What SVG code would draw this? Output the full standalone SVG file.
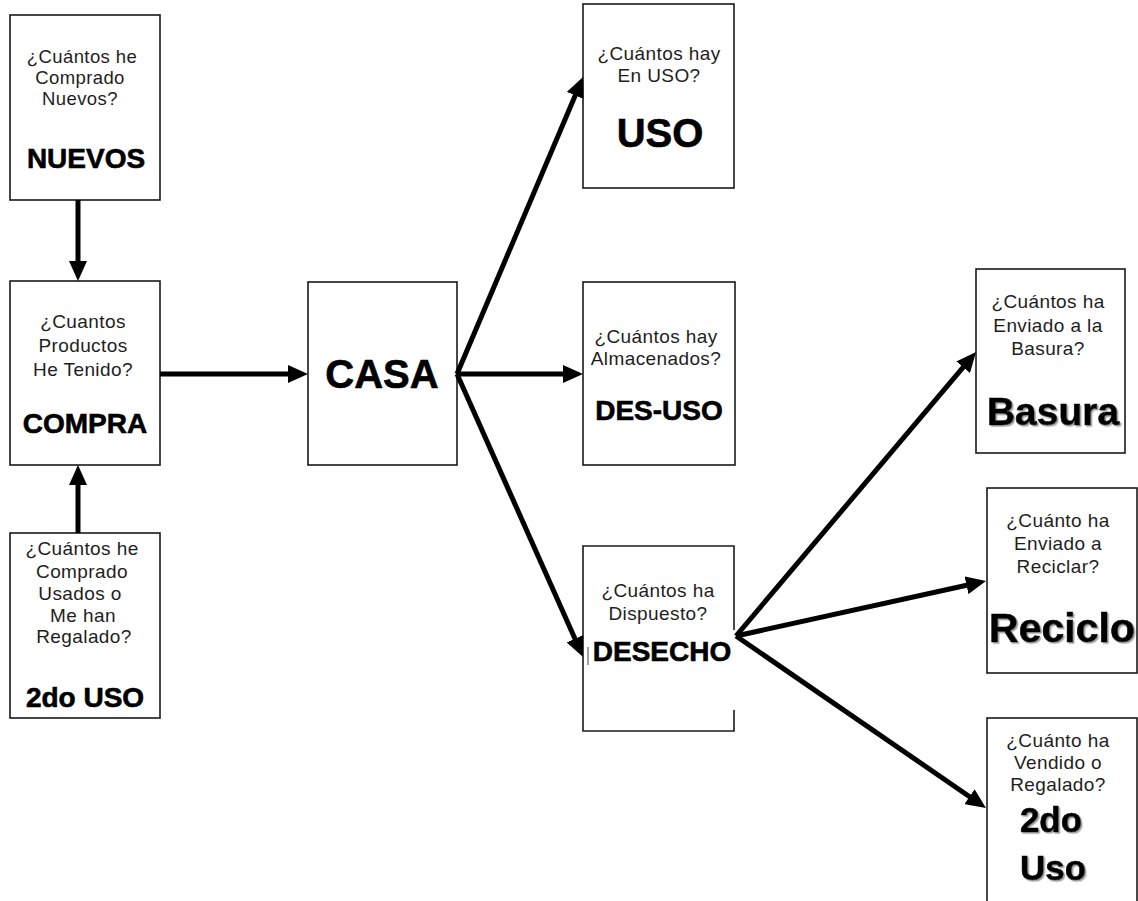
<svg xmlns="http://www.w3.org/2000/svg" width="1138" height="901" viewBox="0 0 1138 901">
<style>
.box{fill:#fff;stroke:#1a1a1a;stroke-width:1.6}
.q{font-family:"Liberation Sans",Arial,sans-serif;font-size:19px;letter-spacing:0.4px;fill:#1e1e1e;text-anchor:middle}
.b{font-family:"Liberation Sans",Arial,sans-serif;font-weight:bold;font-size:28px;fill:#000;stroke:#000;stroke-width:0.6;text-anchor:middle}
.conn{stroke:#000;stroke-width:5;fill:none;marker-end:url(#ah)}
</style>
<defs>
<marker id="ah" markerUnits="userSpaceOnUse" markerWidth="20" markerHeight="18" refX="13" refY="9" orient="auto">
<path d="M0,0 L20,9 L0,18 z" fill="#000"/>
</marker>
<filter id="sh" x="-10%" y="-10%" width="130%" height="130%">
<feDropShadow dx="1.5" dy="1.5" stdDeviation="0.6" flood-color="#888" flood-opacity="0.8"/>
</filter>
</defs>
<rect width="1138" height="901" fill="#fff"/>

<g id="nuevos">
<rect class="box" x="10" y="15" width="150" height="185"/>
<text class="q" x="82" y="63" style="font-size:18.5px">¿Cuántos he</text>
<text class="q" x="80" y="84" style="font-size:18.5px">Comprado</text>
<text class="q" x="80" y="105" style="font-size:18.5px">Nuevos?</text>
<text class="b" x="86" y="168">NUEVOS</text>
</g>

<g id="compra">
<rect class="box" x="10" y="281" width="150" height="184"/>
<text class="q" x="83" y="328">¿Cuantos</text>
<text class="q" x="83" y="352">Productos</text>
<text class="q" x="83" y="376">He Tenido?</text>
<text class="b" x="85" y="433">COMPRA</text>
</g>

<g id="segundo-uso-compra">
<rect class="box" x="10" y="533" width="150" height="185"/>
<text class="q" x="82" y="555">¿Cuántos he</text>
<text class="q" x="82" y="578">Comprado</text>
<text class="q" x="80" y="600">Usados o</text>
<text class="q" x="83" y="622">Me han</text>
<text class="q" x="84" y="643">Regalado?</text>
<text class="b" x="85" y="707">2do USO</text>
</g>

<g id="casa">
<rect class="box" x="308" y="282" width="149" height="183"/>
<text class="b" x="382" y="388" style="font-size:40px">CASA</text>
</g>

<g id="uso">
<rect class="box" x="583" y="4" width="151" height="184"/>
<text class="q" x="659" y="60">¿Cuántos hay</text>
<text class="q" x="659" y="82">En USO?</text>
<text class="b" x="660" y="147" style="font-size:40px">USO</text>
</g>

<g id="des-uso">
<rect class="box" x="583" y="282" width="152" height="183"/>
<text class="q" x="656" y="343">¿Cuántos hay</text>
<text class="q" x="656" y="365">Almacenados?</text>
<text class="b" x="659" y="420">DES-USO</text>
</g>

<g id="desecho">
<rect x="583" y="546" width="151" height="185" fill="#fff"/>
<path d="M734,630 V546 H583 V731 H734 V710" fill="none" stroke="#1a1a1a" stroke-width="1.6"/>
<line x1="588" y1="647" x2="588" y2="665" stroke="#444" stroke-width="1"/>
<text class="q" x="658" y="597">¿Cuántos ha</text>
<text class="q" x="658" y="620">Dispuesto?</text>
<text class="b" x="662" y="661">DESECHO</text>
</g>

<g id="basura">
<rect class="box" x="976" y="269" width="149" height="184"/>
<text class="q" x="1048" y="308">¿Cuántos ha</text>
<text class="q" x="1048" y="332">Enviado a la</text>
<text class="q" x="1048" y="355">Basura?</text>
<text class="b" x="1053" y="425" style="font-size:39px" filter="url(#sh)">Basura</text>
</g>

<g id="reciclo">
<rect class="box" x="987" y="488" width="150" height="185"/>
<text class="q" x="1058" y="527">¿Cuánto ha</text>
<text class="q" x="1058" y="550">Enviado a</text>
<text class="q" x="1058" y="573">Reciclar?</text>
<text class="b" x="1062" y="642" style="font-size:41px" filter="url(#sh)">Reciclo</text>
</g>

<g id="segundo-uso-salida">
<rect class="box" x="987" y="718" width="150" height="190"/>
<text class="q" x="1058" y="747">¿Cuánto ha</text>
<text class="q" x="1058" y="769">Vendido o</text>
<text class="q" x="1058" y="791">Regalado?</text>
<text class="b" x="1051" y="832" style="font-size:35px" filter="url(#sh)">2do</text>
<text class="b" x="1053" y="880" style="font-size:35px" filter="url(#sh)">Uso</text>
</g>

<g id="connectors">
<line class="conn" x1="78" y1="200" x2="78" y2="274"/>
<line class="conn" x1="78" y1="533" x2="78" y2="472"/>
<line class="conn" x1="160" y1="374" x2="301" y2="374"/>
<line class="conn" x1="457" y1="374" x2="580.3" y2="83.4"/>
<line class="conn" x1="457" y1="374" x2="576" y2="374"/>
<line class="conn" x1="457" y1="374" x2="580.2" y2="650.6"/>
<line class="conn" x1="736" y1="636" x2="971.5" y2="357.3"/>
<line class="conn" x1="736" y1="636" x2="979.2" y2="582.5"/>
<line class="conn" x1="736" y1="636" x2="980.2" y2="804.0"/>
</g>
</svg>
